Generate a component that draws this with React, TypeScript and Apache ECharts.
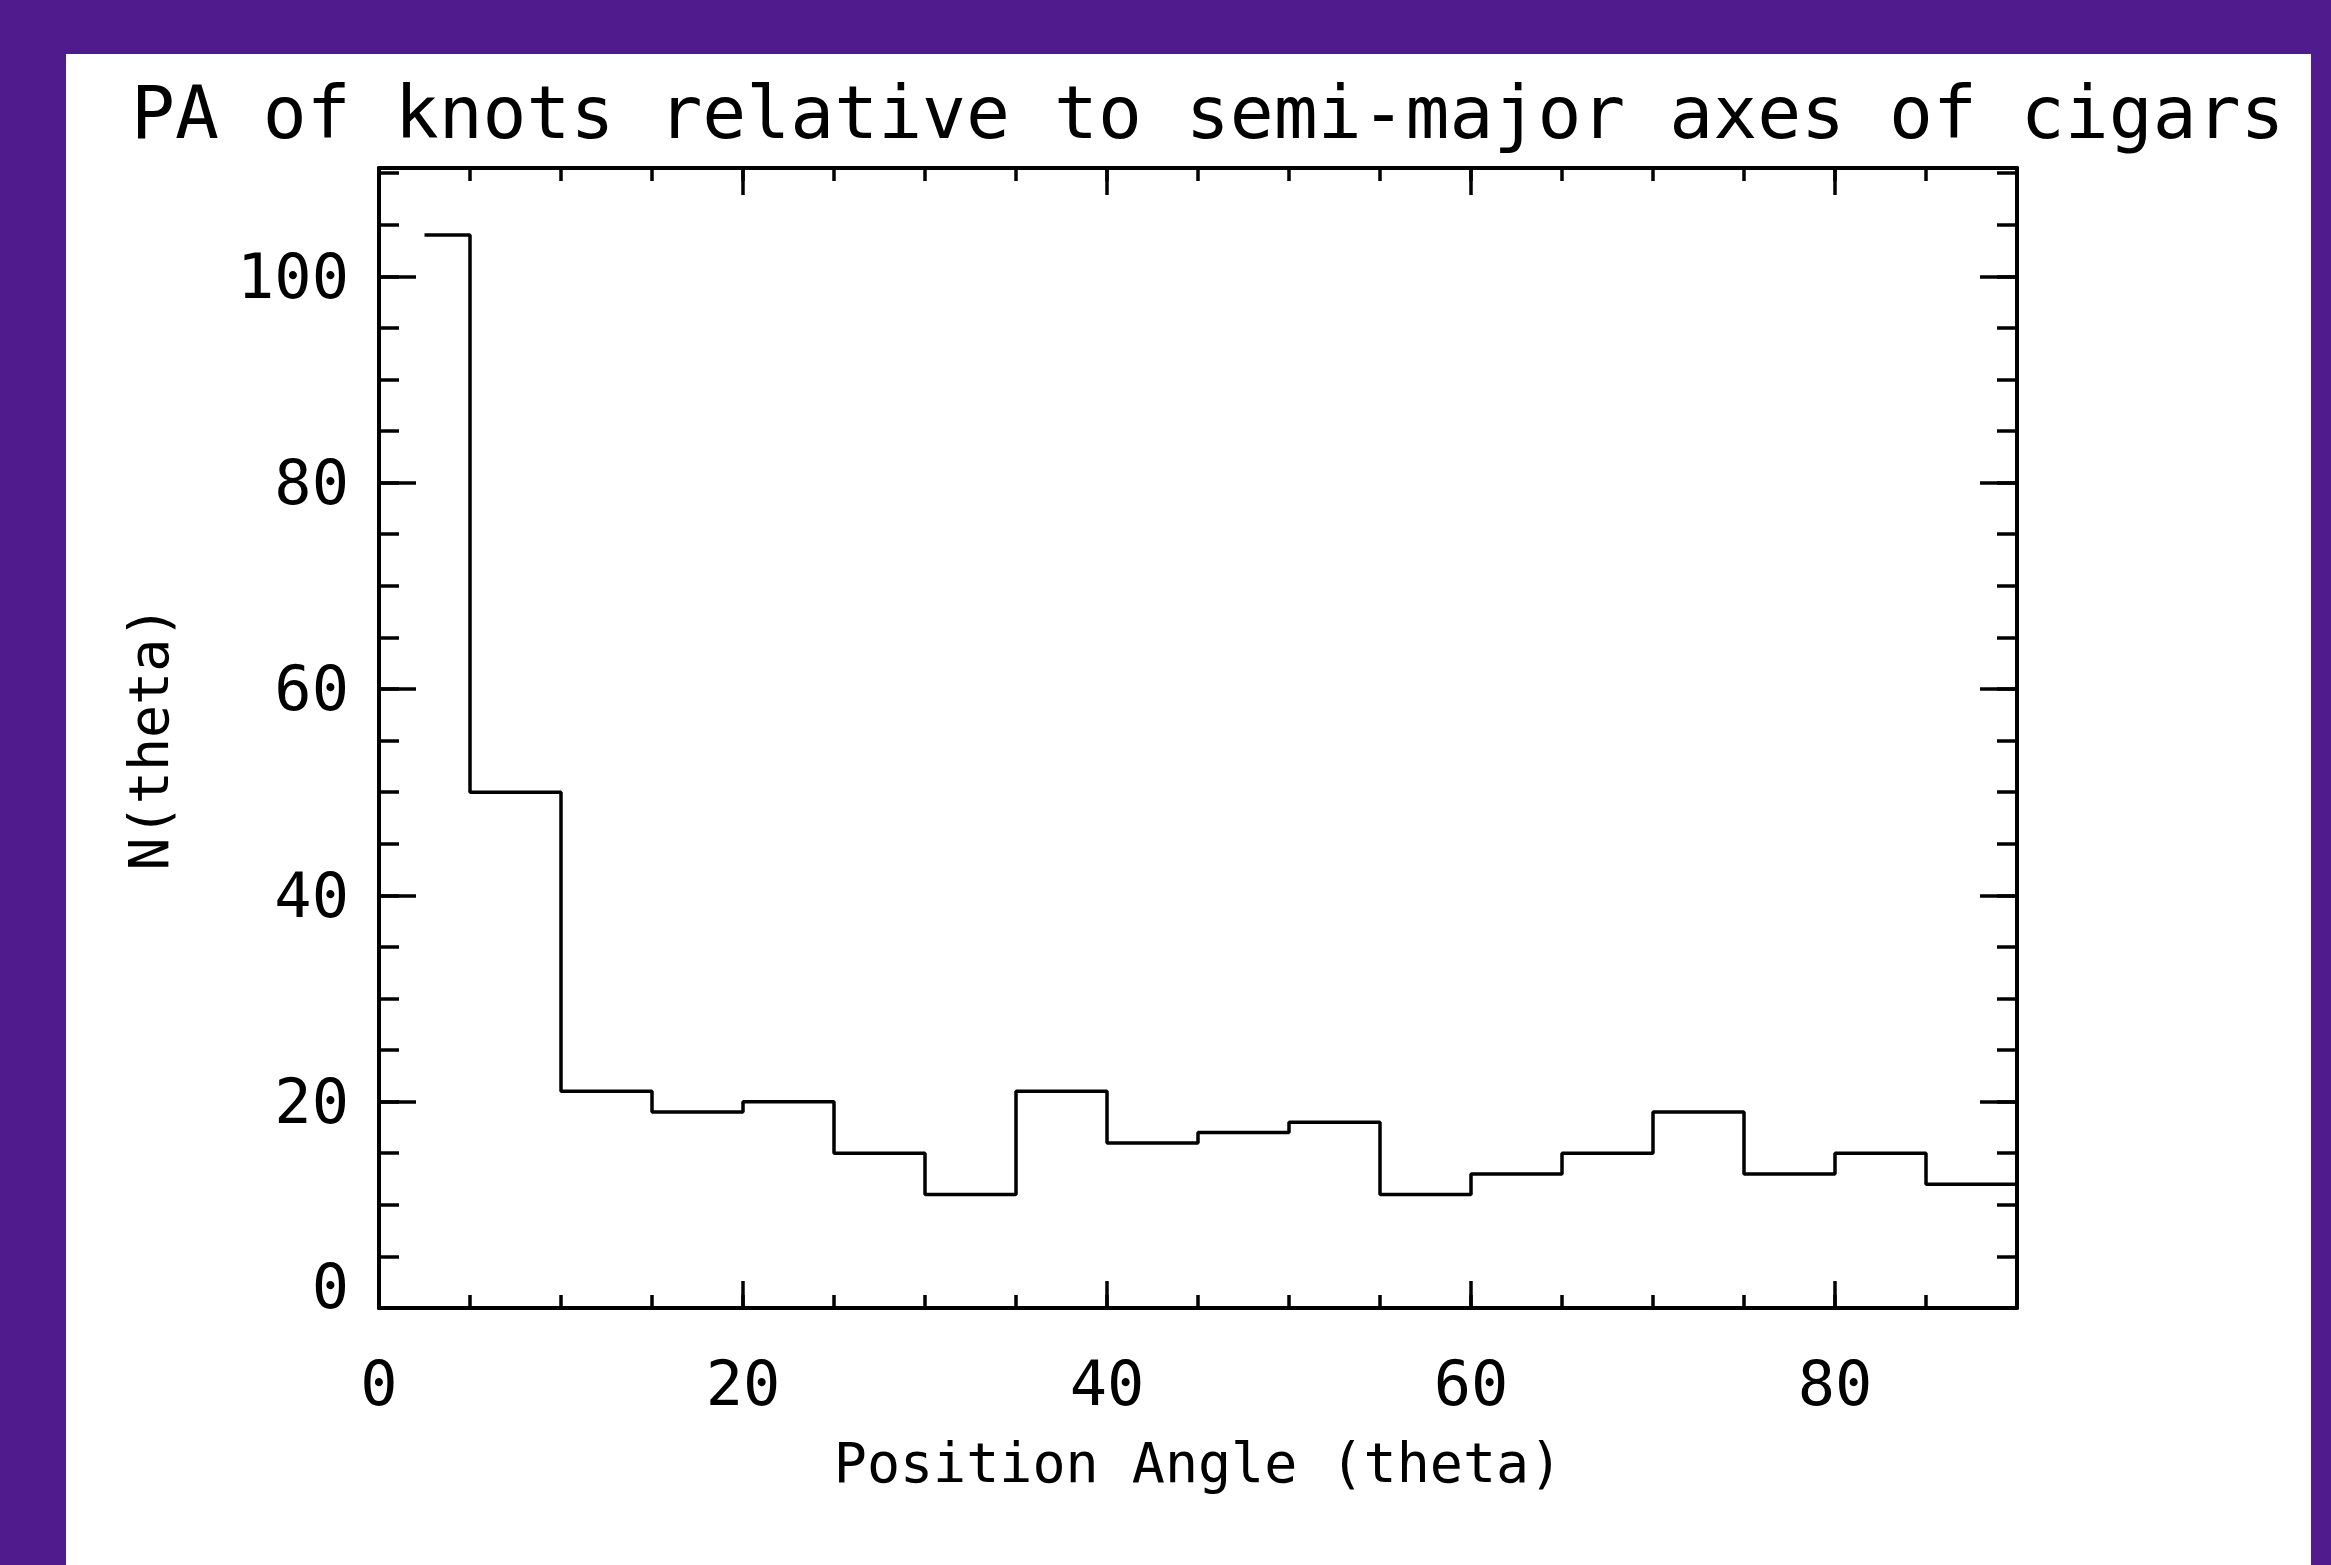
import React, { useEffect, useRef } from "react";
import * as echarts from "echarts";

// Histogram of knot position angles (IDL psym=10 style steps)
const thetaEdges = [2.5, 5, 10, 15, 20, 25, 30, 35, 40, 45, 50, 55, 60, 65, 70, 75, 80, 85, 90];
const counts = [104, 50, 21, 19, 20, 15, 11, 21, 16, 17, 18, 11, 13, 15, 19, 13, 15, 12];
const xTickLabels = [0, 20, 40, 60, 80];
const yTickLabels = [0, 20, 40, 60, 80, 100];

const TITLE = "PA of knots relative to semi-major axes of cigars";
const X_NAME = "Position Angle (theta)";
const Y_NAME = "N(theta)";

const FONT = "DejaVu Sans Mono";
const INK = "#000";

export default function App() {
  const ref = useRef<HTMLDivElement>(null);

  useEffect(() => {
    if (!ref.current) return;
    const chart = echarts.init(ref.current, null, { renderer: "svg" });

    const stepData = thetaEdges.map((x, i) => [x, counts[Math.min(i, counts.length - 1)]]);

    const frameStyle = { color: INK, width: 4 };
    const tickStyle = { color: INK, width: 3.5 };
    const noLabel = { show: false };
    const noSplit = { show: false };
    const hiddenLine = { show: false, onZero: false };
    const shownLine = { show: true, onZero: false, lineStyle: frameStyle };

    const xBase = { type: "value", min: 0, max: 90, splitLine: noSplit };
    const yBase = { type: "value", min: 0, max: 110.5, splitLine: noSplit };

    const option: any = {
      animation: false,
      backgroundColor: "#ffffff",
      title: {
        text: TITLE,
        left: 60,
        top: 17,
        textStyle: { fontFamily: FONT, fontSize: 73, fontWeight: "normal", color: INK },
      },
      grid: { left: 313, top: 114, right: 294, bottom: 257, containLabel: false },
      xAxis: [
        {
          ...xBase,
          position: "bottom",
          interval: 5,
          axisLine: shownLine,
          axisTick: { show: true, inside: true, length: 13, lineStyle: tickStyle },
          axisLabel: {
            show: true,
            margin: 44,
            fontFamily: FONT,
            fontSize: 62,
            color: INK,
            formatter: (v: number) => (xTickLabels.includes(v) ? String(v) : ""),
          },
          name: X_NAME,
          nameLocation: "middle",
          nameGap: 127,
          nameTextStyle: { fontFamily: FONT, fontSize: 55, color: INK },
        },
        {
          ...xBase,
          position: "bottom",
          interval: 20,
          axisLine: hiddenLine,
          axisTick: { show: true, inside: true, length: 27, lineStyle: tickStyle },
          axisLabel: noLabel,
        },
        {
          ...xBase,
          position: "top",
          interval: 5,
          axisLine: shownLine,
          axisTick: { show: true, inside: true, length: 13, lineStyle: tickStyle },
          axisLabel: noLabel,
        },
        {
          ...xBase,
          position: "top",
          interval: 20,
          axisLine: hiddenLine,
          axisTick: { show: true, inside: true, length: 27, lineStyle: tickStyle },
          axisLabel: noLabel,
        },
      ],
      yAxis: [
        {
          ...yBase,
          position: "left",
          interval: 5,
          axisLine: shownLine,
          axisTick: { show: true, inside: true, length: 20, lineStyle: tickStyle },
          axisLabel: {
            show: true,
            margin: 30,
            fontFamily: FONT,
            fontSize: 62,
            color: INK,
            formatter: (v: number) =>
              v === 0 ? "{z|0}\n{s| }" : yTickLabels.includes(v) ? String(v) : "",
            rich: {
              z: { fontFamily: FONT, fontSize: 62, lineHeight: 62, color: INK },
              s: { fontFamily: FONT, fontSize: 10, lineHeight: 44, color: INK },
            },
          },
          name: Y_NAME,
          nameLocation: "middle",
          nameGap: 203,
          nameTextStyle: { fontFamily: FONT, fontSize: 55, color: INK },
        },
        {
          ...yBase,
          position: "left",
          interval: 20,
          axisLine: hiddenLine,
          axisTick: { show: true, inside: true, length: 37, lineStyle: tickStyle },
          axisLabel: noLabel,
        },
        {
          ...yBase,
          position: "right",
          interval: 5,
          axisLine: shownLine,
          axisTick: { show: true, inside: true, length: 20, lineStyle: tickStyle },
          axisLabel: noLabel,
        },
        {
          ...yBase,
          position: "right",
          interval: 20,
          axisLine: hiddenLine,
          axisTick: { show: true, inside: true, length: 37, lineStyle: tickStyle },
          axisLabel: noLabel,
        },
      ],
      series: [
        {
          type: "line",
          xAxisIndex: 0,
          yAxisIndex: 0,
          data: stepData,
          step: "end",
          symbol: "none",
          lineStyle: { color: INK, width: 3.5 },
          silent: true,
        },
      ],
    };

    chart.setOption(option);
    return () => chart.dispose();
  }, []);

  return (
    <div
      style={{
        position: "fixed",
        left: 0,
        top: 0,
        width: 2331,
        height: 1565,
        background: "#501B8D",
        overflow: "hidden",
      }}
    >
      <div
        ref={ref}
        style={{ position: "absolute", left: 66, top: 54, width: 2245, height: 1511 }}
      />
    </div>
  );
}
